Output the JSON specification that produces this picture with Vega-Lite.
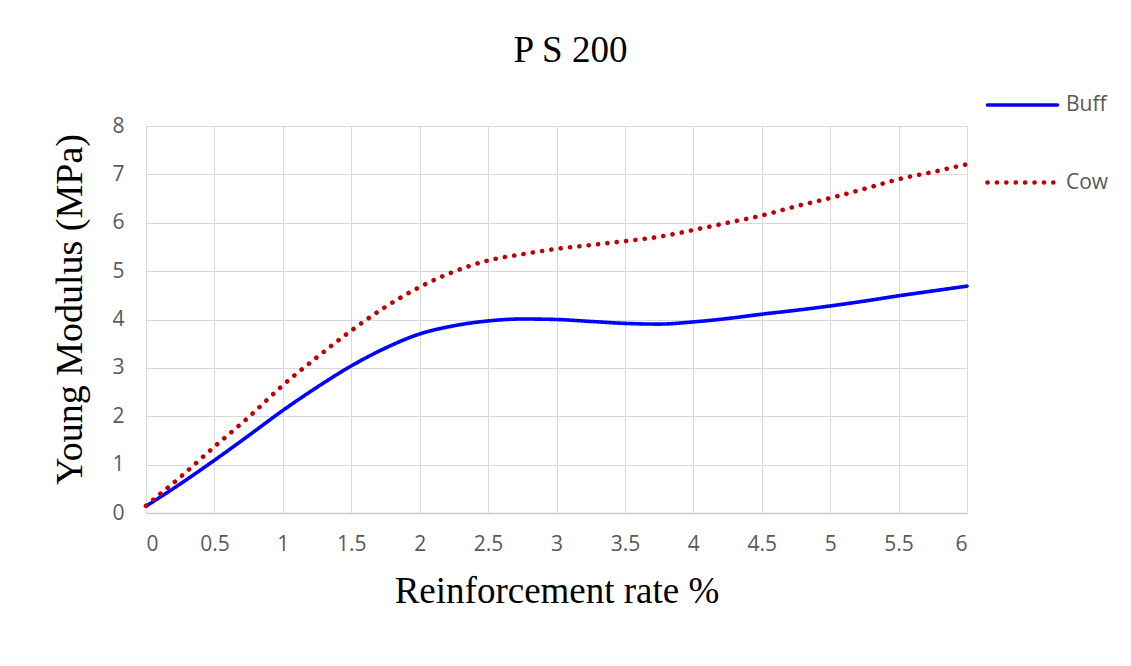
{
  "$schema": "https://vega.github.io/schema/vega-lite/v6.json",
  "autosize": "none",
  "width": 821,
  "height": 387,
  "padding": {"left": 146, "top": 126, "right": 164, "bottom": 153},
  "background": "white",
  "title": {
    "text": "P S 200",
    "font": "Liberation Serif",
    "fontSize": 37,
    "fontWeight": "normal",
    "color": "#000000",
    "anchor": "middle",
    "dx": 14,
    "offset": -2
  },
  "data": {
    "values": [
      {"x": 0, "y": 0.14, "s": "Buff"},
      {"x": 0.25, "y": 0.6, "s": "Buff"},
      {"x": 0.5, "y": 1.09, "s": "Buff"},
      {"x": 0.75, "y": 1.6, "s": "Buff"},
      {"x": 1, "y": 2.12, "s": "Buff"},
      {"x": 1.25, "y": 2.6, "s": "Buff"},
      {"x": 1.5, "y": 3.04, "s": "Buff"},
      {"x": 1.75, "y": 3.41, "s": "Buff"},
      {"x": 2, "y": 3.7, "s": "Buff"},
      {"x": 2.25, "y": 3.87, "s": "Buff"},
      {"x": 2.5, "y": 3.97, "s": "Buff"},
      {"x": 2.75, "y": 4.01, "s": "Buff"},
      {"x": 3, "y": 4.0, "s": "Buff"},
      {"x": 3.25, "y": 3.96, "s": "Buff"},
      {"x": 3.5, "y": 3.92, "s": "Buff"},
      {"x": 3.75, "y": 3.905, "s": "Buff"},
      {"x": 4, "y": 3.95, "s": "Buff"},
      {"x": 4.25, "y": 4.02, "s": "Buff"},
      {"x": 4.5, "y": 4.11, "s": "Buff"},
      {"x": 4.75, "y": 4.19, "s": "Buff"},
      {"x": 5, "y": 4.28, "s": "Buff"},
      {"x": 5.25, "y": 4.38, "s": "Buff"},
      {"x": 5.5, "y": 4.49, "s": "Buff"},
      {"x": 5.75, "y": 4.59, "s": "Buff"},
      {"x": 6, "y": 4.69, "s": "Buff"},
      {"x": 0, "y": 0.15, "s": "Cow"},
      {"x": 0.25, "y": 0.74, "s": "Cow"},
      {"x": 0.5, "y": 1.37, "s": "Cow"},
      {"x": 0.75, "y": 1.98, "s": "Cow"},
      {"x": 1, "y": 2.64, "s": "Cow"},
      {"x": 1.25, "y": 3.22, "s": "Cow"},
      {"x": 1.5, "y": 3.77, "s": "Cow"},
      {"x": 1.75, "y": 4.26, "s": "Cow"},
      {"x": 2, "y": 4.67, "s": "Cow"},
      {"x": 2.25, "y": 4.99, "s": "Cow"},
      {"x": 2.5, "y": 5.22, "s": "Cow"},
      {"x": 2.75, "y": 5.35, "s": "Cow"},
      {"x": 3, "y": 5.46, "s": "Cow"},
      {"x": 3.25, "y": 5.54, "s": "Cow"},
      {"x": 3.5, "y": 5.62, "s": "Cow"},
      {"x": 3.75, "y": 5.71, "s": "Cow"},
      {"x": 4, "y": 5.85, "s": "Cow"},
      {"x": 4.25, "y": 6.0, "s": "Cow"},
      {"x": 4.5, "y": 6.15, "s": "Cow"},
      {"x": 4.75, "y": 6.34, "s": "Cow"},
      {"x": 5, "y": 6.51, "s": "Cow"},
      {"x": 5.25, "y": 6.7, "s": "Cow"},
      {"x": 5.5, "y": 6.9, "s": "Cow"},
      {"x": 5.75, "y": 7.05, "s": "Cow"},
      {"x": 6, "y": 7.21, "s": "Cow"}
    ]
  },
  "mark": {"type": "line", "interpolate": "monotone", "strokeCap": "round"},
  "encoding": {
    "x": {
      "field": "x",
      "type": "quantitative",
      "scale": {"domain": [0, 6], "nice": false},
      "axis": {
        "title": "Reinforcement rate %",
        "values": [0, 0.5, 1, 1.5, 2, 2.5, 3, 3.5, 4, 4.5, 5, 5.5, 6],
        "labelOverlap": false,
        "format": ".2~f"
      }
    },
    "y": {
      "field": "y",
      "type": "quantitative",
      "scale": {"domain": [0, 8], "nice": false},
      "axis": {
        "title": "Young Modulus (MPa)",
        "values": [0, 1, 2, 3, 4, 5, 6, 7, 8],
        "titleY": 183
      }
    },
    "color": {
      "field": "s",
      "type": "nominal",
      "scale": {"domain": ["Buff", "Cow"], "range": ["#0000FF", "#C00000"]},
      "legend": {
        "title": null,
        "orient": "none",
        "legendX": 839,
        "legendY": -58,
        "symbolType": "stroke",
        "symbolSize": 4900,
        "symbolStrokeWidth": 4.4,
        "rowPadding": 30,
        "labelOffset": 6,
        "labelFont": "Open Sans",
        "labelFontSize": 21,
        "labelColor": "#595959",
        "padding": 0,
        "encode": {
          "symbols": {
            "update": {
              "strokeCap": {"value": "round"},
              "strokeWidth": {"value": 4.4},
              "strokeDash": {"signal": "datum.value === 'Cow' ? [0.1, 12.2] : [1, 0]"}
            }
          }
        }
      }
    },
    "strokeDash": {
      "field": "s",
      "type": "nominal",
      "scale": {"domain": ["Buff", "Cow"], "range": [[1, 0], [0.1, 9.3]]}
    },
    "strokeWidth": {
      "field": "s",
      "type": "nominal",
      "scale": {"domain": ["Buff", "Cow"], "range": [3.6, 4.6]},
      "legend": null
    }
  },
  "config": {
    "view": {"stroke": "#d9d9d9"},
    "axis": {
      "grid": true,
      "gridColor": "#d9d9d9",
      "gridWidth": 1,
      "domain": false,
      "ticks": false,
      "labelFont": "Open Sans",
      "labelFontSize": 21,
      "labelColor": "#595959",
      "titleFont": "Liberation Serif",
      "titleFontSize": 37,
      "titleFontWeight": "normal",
      "titleColor": "#000000"
    },
    "axisX": {"labelPadding": 20, "titlePadding": 19, "domain": true, "domainColor": "#cccccc", "domainWidth": 1.5},
    "axisY": {"labelPadding": 22, "titlePadding": 22, "titleFontSize": 38}
  }
}
